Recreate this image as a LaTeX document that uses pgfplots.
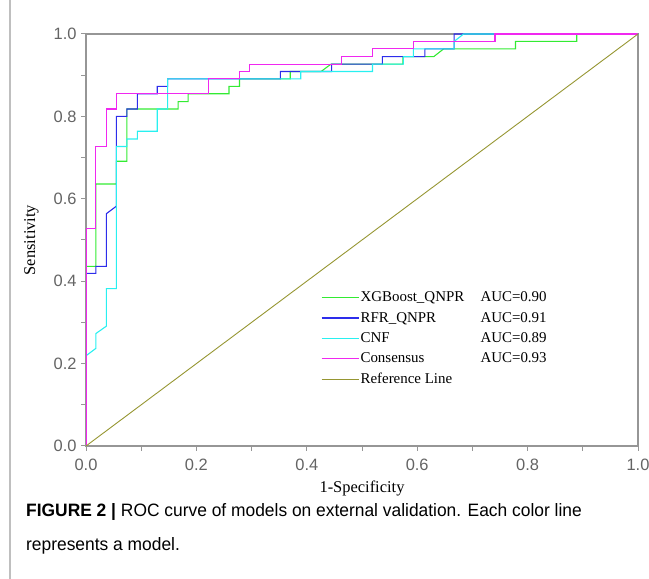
\documentclass[border=0pt]{standalone}
\usepackage{pgfplots}
\pgfplotsset{compat=1.18}
\usepackage{fontspec}
\setmainfont{Liberation Serif}
\newfontfamily\arial{Liberation Sans}
\newfontfamily\capfont[FakeStretch=0.97]{Liberation Sans}
\definecolor{cxgb}{RGB}{50,235,50}
\definecolor{crfr}{RGB}{45,45,235}
\definecolor{ccnf}{RGB}{40,240,240}
\definecolor{ccons}{RGB}{240,40,240}
\definecolor{cref}{RGB}{150,150,50}
\definecolor{axgray}{RGB}{150,150,150}
\definecolor{tkgray}{RGB}{100,100,100}
\begin{document}
\begin{tikzpicture}[x=1bp,y=1bp]
\path[use as bounding box] (0,0) rectangle (649,579);
\draw[black!25, line width=1.5bp] (10,0) -- (10,579);
\begin{axis}[
  scale only axis, width=552bp, height=412bp,
  at={(86bp,133bp)}, anchor=origin,
  xmin=0, xmax=1, ymin=0, ymax=1,
  xtick={0,0.2,...,1}, ytick={0,0.2,...,1},
  minor xtick={0.1,0.3,...,0.9}, minor ytick={0.1,0.3,...,0.9},
  tick align=outside, major tick length=5bp, minor tick length=5bp,
  xtick pos=bottom, ytick pos=left,
  axis line style={axgray, line width=1.5bp},
  tick style={axgray, line width=1bp},
  /pgf/number format/.cd, fixed, fixed zerofill, precision=1, assume math mode=true,
  /pgfplots/.cd,
  tick label style={font=\arial\fontsize{16.5}{16.5}\selectfont, text=tkgray},
  xticklabel style={yshift=-5bp}, yticklabel style={xshift=-1bp},
  xlabel={1-Specificity}, ylabel={Sensitivity},
  label style={font=\fontsize{16.5}{16.5}\selectfont},
  xlabel style={yshift=-3bp}, ylabel style={yshift=8bp},
  legend style={draw=none, fill=none, at={(0.42,0.382)}, anchor=north west,
    font=\fontsize{15}{15}\selectfont, row sep=6.5bp,
    nodes={inner sep=1.2bp}},
  legend cell align=left,
  legend image code/.code={\draw[#1, line width=1.3bp] (0bp,0bp) -- (37bp,0bp);},
  every axis plot/.append style={line width=1.1bp},
]
\addplot[cxgb] coordinates {
(0,0) (0,0.436) (0.018,0.436) (0.018,0.636) (0.055,0.636) (0.055,0.691)
(0.074,0.691) (0.074,0.818) (0.167,0.818) (0.167,0.836) (0.185,0.836)
(0.185,0.855) (0.259,0.855) (0.259,0.873) (0.278,0.873) (0.278,0.891)
(0.370,0.891) (0.370,0.909) (0.426,0.909) (0.444,0.927) (0.574,0.927)
(0.574,0.945) (0.630,0.945) (0.648,0.964) (0.778,0.964) (0.778,0.982)
(0.889,0.982) (0.889,1) (1,1)};
\addlegendentry{\makebox[120bp][l]{XGBoost\_QNPR}AUC=0.90}
\addplot[crfr] coordinates {
(0,0) (0,0.419) (0.018,0.419) (0.018,0.436) (0.037,0.436) (0.037,0.564)
(0.055,0.582) (0.055,0.800) (0.074,0.800) (0.074,0.818) (0.093,0.818)
(0.093,0.855) (0.129,0.855) (0.129,0.873) (0.148,0.873) (0.148,0.891)
(0.352,0.891) (0.352,0.909) (0.445,0.909) (0.445,0.927) (0.537,0.927)
(0.537,0.945) (0.614,0.945) (0.614,0.964) (0.667,0.964) (0.667,1) (1,1)};
\addlegendentry{\makebox[120bp][l]{RFR\_QNPR}AUC=0.91}
\addplot[ccnf] coordinates {
(0,0) (0,0.219) (0.018,0.237) (0.018,0.273) (0.037,0.291) (0.037,0.382)
(0.055,0.382) (0.055,0.727) (0.074,0.727) (0.074,0.745) (0.093,0.745)
(0.093,0.764) (0.129,0.764) (0.129,0.818) (0.148,0.818) (0.148,0.891)
(0.389,0.891) (0.389,0.909) (0.519,0.909) (0.519,0.927) (0.575,0.927)
(0.575,0.945) (0.593,0.945) (0.593,0.964) (0.667,0.964) (0.667,0.982)
(0.684,1) (1,1)};
\addlegendentry{\makebox[120bp][l]{CNF}AUC=0.89}
\addplot[ccons] coordinates {
(0,0) (0,0.527) (0.018,0.527) (0.018,0.727) (0.037,0.727) (0.037,0.818)
(0.055,0.818) (0.055,0.855) (0.222,0.855) (0.222,0.891) (0.278,0.891)
(0.278,0.909) (0.297,0.909) (0.297,0.927) (0.463,0.927) (0.463,0.945)
(0.519,0.945) (0.519,0.964) (0.593,0.964) (0.593,0.982) (0.741,0.982)
(0.741,1) (1,1)};
\addlegendentry{\makebox[120bp][l]{Consensus}AUC=0.93}
\addplot[cref, line width=0.9bp] coordinates {(0,0) (1,1)};
\addlegendentry{Reference Line}
\end{axis}
\node[anchor=base west, font=\capfont\fontsize{18}{18}\selectfont, inner sep=0]
  at (26,62) {\textbf{FIGURE 2 |} ROC curve of models on external validation. Each color line};
\node[anchor=base west, font=\capfont\fontsize{18}{18}\selectfont, inner sep=0]
  at (26,28) {represents a model.};
\end{tikzpicture}
\end{document}
